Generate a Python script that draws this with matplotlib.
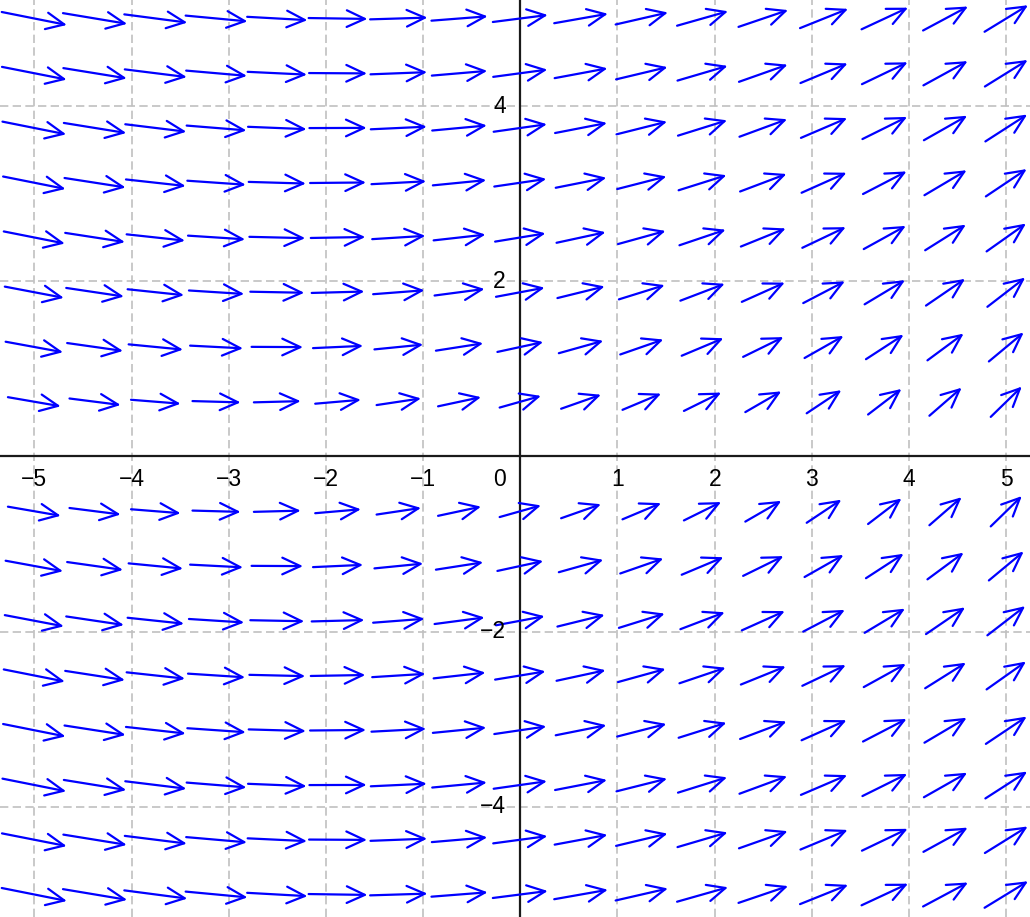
"""Direction field with open blue arrows on a dashed grid, axes through the origin."""

from __future__ import annotations

import matplotlib

matplotlib.use("Agg")
import matplotlib.pyplot as plt

# sample positions of the field
X_SAMPLES = [-5.0, -4.375, -3.75, -3.125, -2.5, -1.875, -1.25, -0.625, 0.0,
             0.625, 1.25, 1.875, 2.5, 3.125, 3.75, 4.375, 5.0]
Y_SAMPLES_UPPER = [5.0, 4.375, 3.75, 3.125, 2.5, 1.875, 1.25, 0.625]

# arrow components (data units), upper half, top row first
U_UPPER = [
    [.670, .660, .648, .636, .620, .605, .590, .578, .565, .552, .538, .524, .510, .494, .478, .462, .447],
    [.665, .652, .638, .625, .610, .596, .582, .570, .557, .543, .529, .515, .500, .485, .470, .455, .440],
    [.655, .642, .628, .615, .602, .589, .576, .562, .548, .534, .520, .505, .490, .475, .460, .445, .430],
    [.642, .628, .614, .601, .588, .575, .562, .549, .535, .521, .506, .492, .477, .462, .448, .434, .420],
    [.628, .614, .600, .587, .574, .561, .547, .533, .518, .504, .489, .475, .461, .447, .433, .419, .405],
    [.607, .593, .580, .568, .555, .542, .528, .514, .500, .486, .471, .456, .442, .428, .415, .402, .389],
    [.590, .574, .559, .544, .529, .515, .501, .486, .471, .457, .443, .429, .415, .401, .387, .372, .358],
    [.543, .526, .510, .495, .482, .470, .457, .442, .425, .410, .397, .383, .370, .357, .344, .332, .320],
]
V_UPPER = [
    [-.148, -.122, -.094, -.066, -.038, -.010, .020, .050, .080, .108, .137, .165, .192, .220, .247, .274, .303],
    [-.145, -.117, -.088, -.060, -.032, -.004, .025, .054, .083, .112, .140, .168, .196, .224, .250, .277, .303],
    [-.145, -.115, -.085, -.055, -.027, .002, .030, .058, .086, .115, .145, .175, .200, .226, .253, .280, .307],
    [-.142, -.108, -.075, -.046, -.019, .006, .033, .060, .087, .115, .144, .172, .200, .229, .258, .285, .312],
    [-.138, -.105, -.072, -.042, -.015, .011, .038, .066, .094, .121, .150, .178, .207, .236, .265, .292, .318],
    [-.128, -.098, -.068, -.040, -.012, .016, .045, .075, .104, .133, .163, .193, .220, .248, .276, .305, .333],
    [-.120, -.090, -.060, -.031, -.003, .026, .055, .084, .113, .142, .171, .200, .226, .252, .279, .305, .330],
    [-.104, -.074, -.045, -.015, .014, .045, .076, .105, .133, .160, .185, .210, .237, .264, .292, .320, .346],
]

# the lower half of the picture mirrors the upper half row for row
Y_SAMPLES = Y_SAMPLES_UPPER + [-y for y in reversed(Y_SAMPLES_UPPER)]
U_ROWS = U_UPPER + U_UPPER[::-1]
V_ROWS = V_UPPER + V_UPPER[::-1]

X_TICKS = [-5, -4, -3, -2, -1, 1, 2, 3, 4, 5]
Y_TICKS = [-4, -2, 2, 4]

ARROW_COLOR = "#0000ff"
GRID_COLOR = "#c0c0c0"
FONT = ["Liberation Sans", "DejaVu Sans"]
FONT_SIZE = 16.5


def main() -> None:
    fig = plt.figure(figsize=(10.30, 9.17), dpi=100)
    ax = fig.add_axes([0, 0, 1, 1])
    ax.set_xlim(-5.353, 5.244)
    ax.set_ylim(-5.257, 5.211)
    ax.axis("off")

    draw_grid(ax)
    draw_field(ax)
    draw_labels(ax)

    fig.savefig("out.png", dpi=100, facecolor="white")
    plt.close(fig)


def draw_grid(ax) -> None:
    dash = (0, (5.0, 2.6))
    for x in X_TICKS:
        ax.axvline(x, color=GRID_COLOR, lw=1.2, linestyle=dash, zorder=1)
    for y in Y_TICKS:
        ax.axhline(y, color=GRID_COLOR, lw=1.2, linestyle=dash, zorder=1)
    ax.axhline(0, color="#1a1a1a", lw=1.6, zorder=2)
    ax.axvline(0, color="#1a1a1a", lw=1.6, zorder=2)


def draw_field(ax) -> None:
    style = "->,head_length=1.3,head_width=0.6"
    for y, u_row, v_row in zip(Y_SAMPLES, U_ROWS, V_ROWS):
        for x, u, v in zip(X_SAMPLES, u_row, v_row):
            ax.annotate(
                "",
                xy=(x + u / 2, y + v / 2),
                xytext=(x - u / 2, y - v / 2),
                arrowprops=dict(
                    arrowstyle=style,
                    color=ARROW_COLOR,
                    lw=1.6,
                    shrinkA=0,
                    shrinkB=0,
                    mutation_scale=10,
                ),
                zorder=3,
            )


def draw_labels(ax) -> None:
    label_y = -0.262  # row of x tick labels just below the axis
    label_x = -0.15   # right edge of y tick labels, left of the axis
    for x in X_TICKS:
        ax.text(x, label_y, f"{x}".replace("-", "\u2212"), ha="center", va="center",
                fontsize=FONT_SIZE, family=FONT, color="black", zorder=4)
    for y in Y_TICKS:
        ax.text(label_x, y, f"{y}".replace("-", "\u2212"), ha="right", va="center",
                fontsize=FONT_SIZE, family=FONT, color="black", zorder=4)
    ax.text(label_x, label_y, "0", ha="right", va="center",
            fontsize=FONT_SIZE, family=FONT, color="black", zorder=4)


if __name__ == "__main__":
    main()
